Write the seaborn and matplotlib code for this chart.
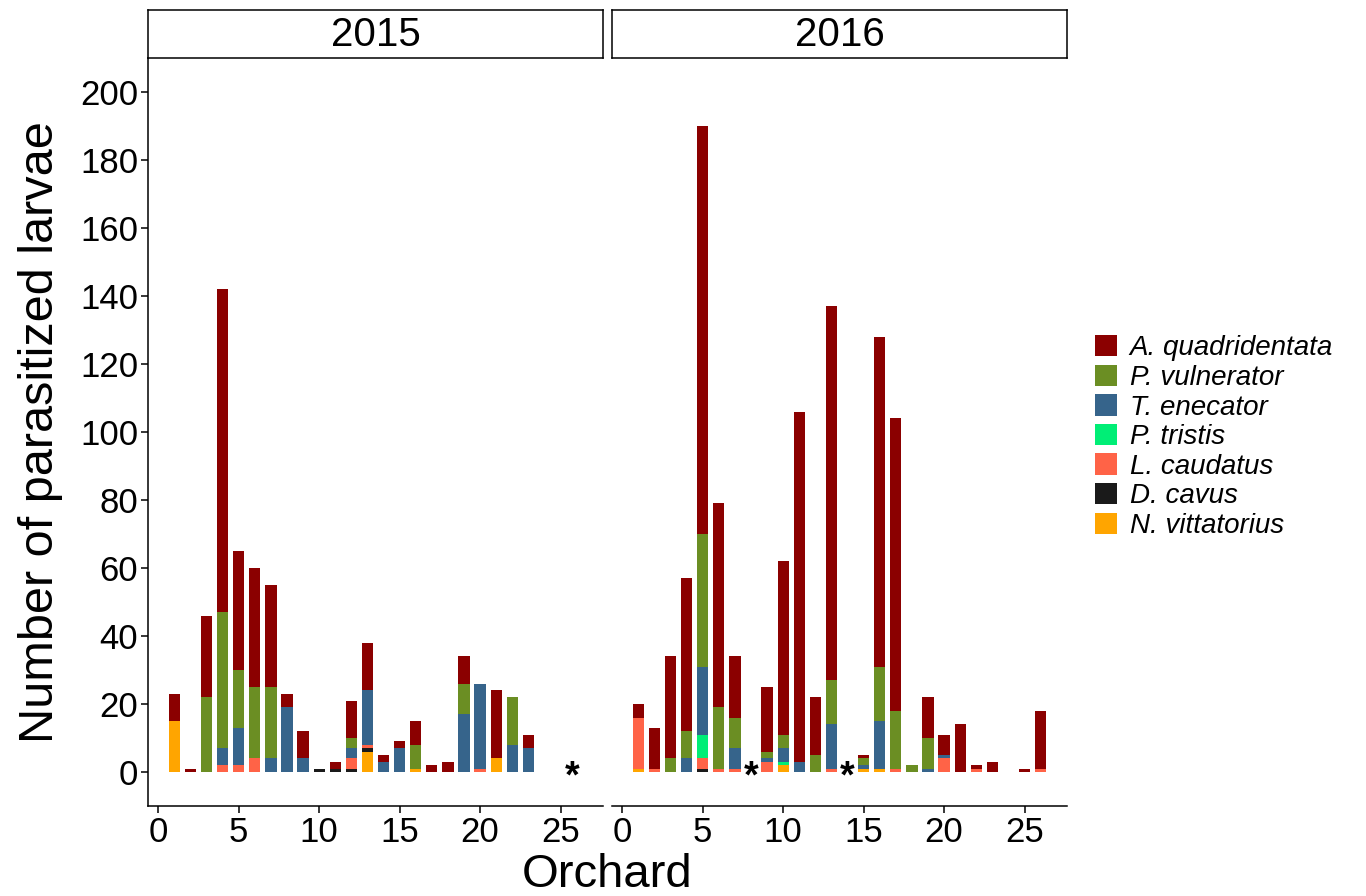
import matplotlib
matplotlib.use("Agg")
import matplotlib.pyplot as plt
import numpy as np
import pandas as pd
import seaborn as sns
from matplotlib.patches import Patch
from matplotlib.font_manager import FontProperties

# ---- data -------------------------------------------------------------
orchards = list(range(1, 27))
years = ["2015", "2016"]
species = ["A. quadridentata", "P. vulnerator", "T. enecator", "P. tristis",
           "L. caudatus", "D. cavus", "N. vittatorius"]
species_colors = ["#8B0000", "#6B8E23", "#36648B", "#00EE76",
                  "#FF6347", "#1A1A1A", "#FFA500"]

# parasitized larvae per orchard (orchards 1..26), 2015
a_quad_2015 = [8, 1, 24, 95, 35, 35, 30, 4, 8, 0, 2, 11, 14, 2, 2, 7, 2, 3, 8, 0, 20, 0, 4, 0, 0, 0]
p_vuln_2015 = [0, 0, 22, 40, 17, 21, 21, 0, 0, 0, 0, 3, 0, 0, 0, 7, 0, 0, 9, 0, 0, 14, 0, 0, 0, 0]
t_enec_2015 = [0, 0, 0, 5, 11, 0, 4, 19, 4, 0, 0, 3, 16, 3, 7, 0, 0, 0, 17, 25, 0, 8, 7, 0, 0, 0]
p_tris_2015 = [0] * 26
l_caud_2015 = [0, 0, 0, 2, 2, 4, 0, 0, 0, 0, 0, 3, 1, 0, 0, 0, 0, 0, 0, 1, 0, 0, 0, 0, 0, 0]
d_cavu_2015 = [0, 0, 0, 0, 0, 0, 0, 0, 0, 1, 1, 1, 1, 0, 0, 0, 0, 0, 0, 0, 0, 0, 0, 0, 0, 0]
n_vitt_2015 = [15, 0, 0, 0, 0, 0, 0, 0, 0, 0, 0, 0, 6, 0, 0, 1, 0, 0, 0, 0, 4, 0, 0, 0, 0, 0]

# parasitized larvae per orchard (orchards 1..26), 2016
a_quad_2016 = [4, 12, 30, 45, 120, 60, 18, 0, 19, 51, 103, 17, 110, 0, 1, 97, 86, 0, 12, 6, 14, 1, 3, 0, 1, 17]
p_vuln_2016 = [0, 0, 4, 8, 39, 18, 9, 0, 2, 4, 0, 5, 13, 0, 2, 16, 17, 2, 9, 0, 0, 0, 0, 0, 0, 0]
t_enec_2016 = [0, 0, 0, 4, 20, 0, 6, 0, 1, 4, 3, 0, 13, 0, 1, 14, 0, 0, 1, 1, 0, 0, 0, 0, 0, 0]
p_tris_2016 = [0, 0, 0, 0, 7, 0, 0, 0, 0, 1, 0, 0, 0, 0, 0, 0, 0, 0, 0, 0, 0, 0, 0, 0, 0, 0]
l_caud_2016 = [15, 1, 0, 0, 3, 1, 1, 0, 3, 0, 0, 0, 1, 0, 0, 0, 1, 0, 0, 4, 0, 1, 0, 0, 0, 1]
d_cavu_2016 = [0, 0, 0, 0, 1, 0, 0, 0, 0, 0, 0, 0, 0, 0, 0, 0, 0, 0, 0, 0, 0, 0, 0, 0, 0, 0]
n_vitt_2016 = [1, 0, 0, 0, 0, 0, 0, 0, 0, 2, 0, 0, 0, 0, 1, 1, 0, 0, 0, 0, 0, 0, 0, 0, 0, 0]

# orchards without samples, marked with an asterisk
no_sample_2015 = [25.7]
no_sample_2016 = [8, 14]

y_ticks = list(range(0, 201, 20))
x_ticks = [0, 5, 10, 15, 20, 25]

counts = {
    "2015": [a_quad_2015, p_vuln_2015, t_enec_2015, p_tris_2015,
             l_caud_2015, d_cavu_2015, n_vitt_2015],
    "2016": [a_quad_2016, p_vuln_2016, t_enec_2016, p_tris_2016,
             l_caud_2016, d_cavu_2016, n_vitt_2016],
}
no_sample = {"2015": no_sample_2015, "2016": no_sample_2016}

rows = []
for yr in years:
    for sp, vals in zip(species, counts[yr]):
        for o, v in zip(orchards, vals):
            rows.append({"year": yr, "orchard": o, "species": sp, "n": v})
df = pd.DataFrame(rows)

# ---- style ------------------------------------------------------------
sns.set_style("ticks")
plt.rcParams["font.family"] = ["Liberation Sans", "DejaVu Sans"]
plt.rcParams["axes.linewidth"] = 1.1
plt.rcParams["text.color"] = "black"
plt.rcParams["axes.labelcolor"] = "black"
plt.rcParams["xtick.color"] = "black"
plt.rcParams["ytick.color"] = "black"
palette = dict(zip(species, species_colors))

W, H = 1366, 896
fig = plt.figure(figsize=(W / 100, H / 100), dpi=100)

panel_left = [148, 612]
panel_w = 455
panel_top, panel_bottom = 58, 806
strip_top = 10

axes = []
for i, yr in enumerate(years):
    l = panel_left[i] / W
    ax = fig.add_axes([l, (H - panel_bottom) / H, panel_w / W,
                       (panel_bottom - panel_top) / H])
    sub = df[df["year"] == yr]
    sns.histplot(data=sub, x="orchard", weights="n", hue="species",
                 hue_order=species, palette=palette, multiple="stack",
                 discrete=True, shrink=0.7, alpha=1, linewidth=0,
                 legend=False, ax=ax)
    for xs in no_sample[yr]:
        ax.text(xs, -4.5, "*", ha="center", va="baseline",
                fontsize=27, fontweight="bold", color="black")
    ax.set_xlim(-0.635, 27.635)
    ax.set_ylim(-10, 210)
    ax.set_xticks(x_ticks)
    ax.set_yticks(y_ticks)
    ax.tick_params(axis="both", labelsize=25, length=5, width=1.1,
                   color="black", labelcolor="black", pad=2)
    ax.set_xlabel("")
    ax.set_ylabel("")
    sns.despine(ax=ax)
    for s in ("left", "bottom"):
        ax.spines[s].set_color("black")
    if i == 1:
        ax.spines["left"].set_visible(False)
        ax.tick_params(axis="y", left=False, labelleft=False)
    axes.append(ax)

    # facet strip
    sax = fig.add_axes([l, (H - panel_top) / H, panel_w / W,
                        (panel_top - strip_top) / H])
    sax.set_xticks([])
    sax.set_yticks([])
    sax.set_facecolor("white")
    for s in sax.spines.values():
        s.set_visible(True)
        s.set_color("black")
        s.set_linewidth(1.1)
    sax.text(0.5, 0.47, yr, ha="center", va="center", fontsize=29,
             color="black", transform=sax.transAxes)

axes[0].set_ylabel("Number of parasitized larvae", fontsize=35, labelpad=12,
                   color="black")
fig.text((148 + 1067) / 2 / W, (H - 887) / H, "Orchard", ha="center",
         va="baseline", fontsize=34, color="black")

handles = [Patch(facecolor=c, edgecolor="none") for c in species_colors]
leg = fig.legend(handles, species, loc="center left",
                 bbox_to_anchor=(1095 / W, (H - 437) / H), frameon=False,
                 prop=FontProperties(family="Liberation Sans", style="italic", size=20),
                 handlelength=0.8, handleheight=0.8, handletextpad=0.45,
                 labelspacing=0.12, borderpad=0, borderaxespad=0)
for t in leg.get_texts():
    t.set_color("black")

fig.savefig("out.png", dpi=100, facecolor="white")
